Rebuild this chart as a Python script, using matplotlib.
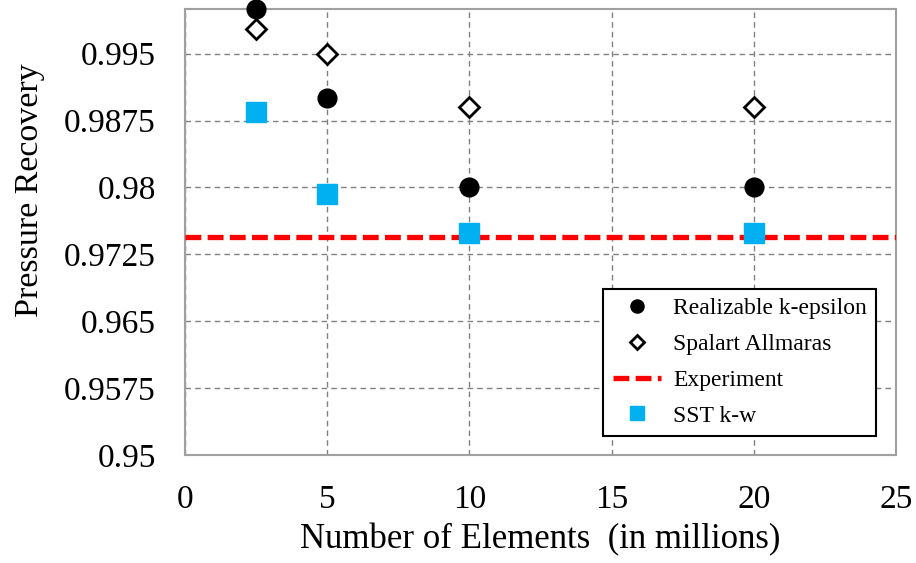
import matplotlib
matplotlib.use("Agg")
import matplotlib.pyplot as plt

# Data
x_vals = [2.5, 5, 10, 20]
realizable = [1.0, 0.990, 0.980, 0.980]
spalart = [0.9978, 0.995, 0.989, 0.989]
sst = [0.98845, 0.9793, 0.9749, 0.9749]
experiment = 0.97447
x_ticks = [0, 5, 10, 15, 20, 25]
y_ticks = [0.95, 0.9575, 0.965, 0.9725, 0.98, 0.9875, 0.995]
y_tick_labels = ["0.95", "0.9575", "0.965", "0.9725", "0.98", "0.9875", "0.995"]

plt.rcParams['font.family'] = ['Liberation Serif', 'DejaVu Serif']

fig = plt.figure(figsize=(9.16, 5.63), dpi=100)
ax = fig.add_axes([185/916, 1-455/563, (896-185)/916, (455-9)/563])

ax.set_xlim(0, 25)
ax.set_ylim(0.95, 1.0)
ax.set_xticks(x_ticks)
ax.set_yticks(y_ticks)
ax.set_yticklabels(y_tick_labels)
ax.tick_params(axis='both', length=0, labelsize=24, pad=21)

ax.grid(True, color='#808080', linestyle=(0, (4, 3)), linewidth=1.0)
ax.set_axisbelow(True)
for s in ax.spines.values():
    s.set_color('#a0a0a0')
    s.set_linewidth(1.5)

ax.plot(x_vals, realizable, linestyle='none', marker='o', markersize=13.5,
        color='black', label='Realizable k-epsilon', clip_on=False, zorder=5)
ax.plot(x_vals, spalart, linestyle='none', marker='D', markersize=10,
        markerfacecolor='white', markeredgecolor='black', markeredgewidth=2,
        label='Spalart Allmaras', clip_on=False, zorder=5)
ax.axhline(experiment, color='#ff0000', linewidth=3.8, linestyle=(0, (3, 1.2)),
           label='Experiment', zorder=4)
ax.plot(x_vals, sst, linestyle='none', marker='s', markersize=14.5,
        color='#00b0f0', label='SST k-w', clip_on=False, zorder=6)

ax.set_xlabel('Number of Elements  (in millions)', fontsize=25, labelpad=6)
ax.set_ylabel('Pressure Recovery', fontsize=24.5)
ax.yaxis.set_label_coords(-0.197, 0.594)

leg = ax.legend(loc='lower right', bbox_to_anchor=(0.972, 0.0426), borderaxespad=0,
                fontsize=17, markerscale=0.7, fancybox=False, framealpha=1,
                edgecolor='black', handlelength=2.05, handletextpad=0.5,
                labelspacing=0.6, borderpad=0.4)
leg.get_frame().set_linewidth(1.5)

fig.savefig('out.png', dpi=100)
